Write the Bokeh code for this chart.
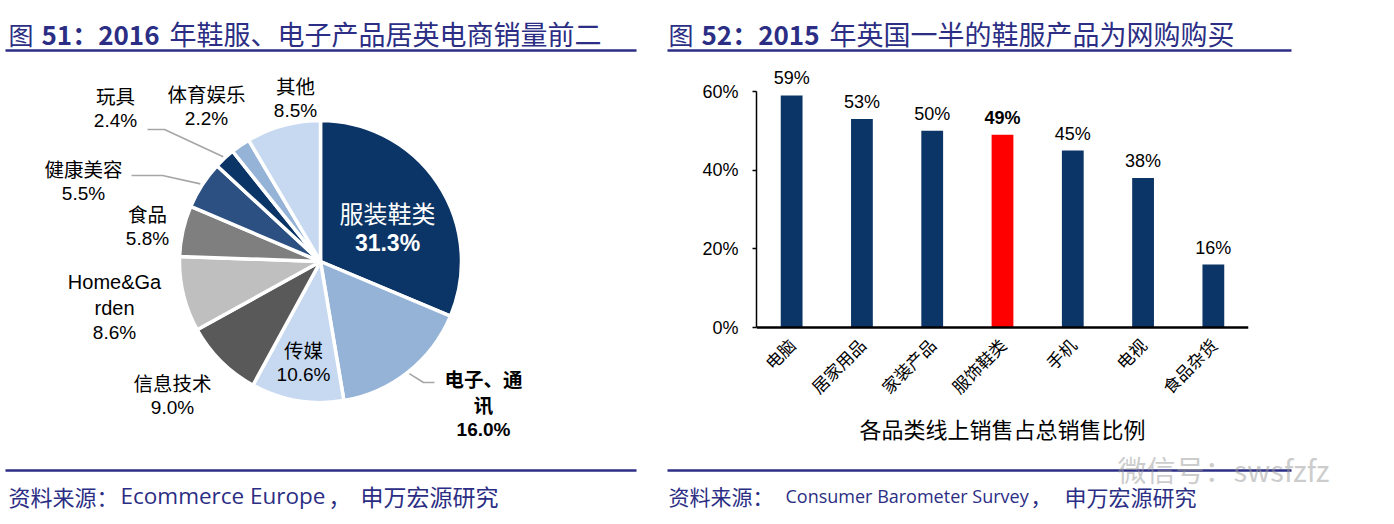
import math
from bokeh.plotting import figure
from bokeh.models import (Range1d, FactorRange, FixedTicker, NumeralTickFormatter,
                          Label, ColumnDataSource, CategoricalAxis)
from bokeh.layouts import column, row
from bokeh.embed import file_html
from bokeh.resources import INLINE
from bokeh.core.properties import value

# ---------------- data ----------------
pie_names = ["服装鞋类", "电子、通讯", "传媒", "信息技术", "Home&Garden",
             "食品", "健康美容", "玩具", "体育娱乐", "其他"]
pie_values = [31.3, 16.0, 10.6, 9.0, 8.6, 5.8, 5.5, 2.4, 2.2, 8.5]

bar_categories = ["电脑", "居家用品", "家装产品", "服饰鞋类", "手机", "电视", "食品杂货"]
bar_values = [0.59, 0.53, 0.50, 0.49, 0.45, 0.38, 0.16]
highlight_category = "服饰鞋类"
bar_ticks = [0, 0.2, 0.4, 0.6]

title_left = ["图", "51：2016", "年鞋服、电子产品居英电商销量前二"]
title_right = ["图", "52：2015", "年英国一半的鞋服产品为网购购买"]
source_left = ["资料来源：", "Ecommerce Europe", "，", "申万宏源研究"]
source_right = ["资料来源：", "Consumer Barometer Survey", "，", "申万宏源研究"]
bar_axis_title = "各品类线上销售占总销售比例"
watermark = "微信号：swsfzfz"

# ---------------- styles / layout (page pixels, origin top-left) ----------------
PAGE_W, PAGE_H = 1378, 516
def Y(py):
    return PAGE_H - py

CJK = "Noto Sans CJK SC"
SANS = "Liberation Sans"
LATIN = "Open Sans"
INK = "#2B2E84"
NAVY = "#0B3566"

pie_colors = ["#0B3566", "#95B3D7", "#C6D9F1", "#595959", "#BFBFBF",
              "#7F7F7F", "#2D5083", "#0B3566", "#95B3D7", "#C6D9F1"]
pie_wrap = {"电子、通讯": ["电子、通", "讯"], "Home&Garden": ["Home&Ga", "rden"]}
pie_label_pos = [(387, 212), (483, 378), (303, 349), (172, 382), (114, 281),
                 (147, 213), (83, 168), (115, 95), (206, 93), (295, 85)]
LINE_GAP = 26
leaders = {1: [(423, 382), (434, 382)], 6: [(162, 175), (131, 175)], 7: [(164, 129), (147, 129)]}
PIE_CX, PIE_CY, PIE_R = 320, 261, 141

MID_TOP, MID_BOT = 60, 446          # middle row in page px
SPLIT = 652                          # pie | bar boundary
BAR_LEFT, BAR_RIGHT = 756, 1248      # bar plot area
BAR_Y0, BAR_Y60 = 327, 91            # page y of 0% and 60%
SRC_Y = 495


def blank(w, h, x0, x1, py_top, py_bot):
    return figure(width=w, height=h, x_range=Range1d(x0, x1),
                  y_range=Range1d(Y(py_bot), Y(py_top)),
                  x_axis_type=None, y_axis_type=None, toolbar_location=None,
                  output_backend="svg", min_border=0, outline_line_color=None)


def add_text(p, x, py, text, size, color, font=CJK, style="normal",
             align="left", alpha=1.0):
    p.add_layout(Label(x=x, y=Y(py), text=text, text_font_size=f"{size}px",
                       text_color=color, text_font=font, text_font_style=style,
                       text_align=align, text_baseline="middle", text_alpha=alpha))


# ---------------- top strip (titles) ----------------
top = blank(PAGE_W, MID_TOP, 0, PAGE_W, 0, MID_TOP)
for base, pieces in ((8, title_left), (668, title_right)):
    add_text(top, base, 33, pieces[0], 25, INK)
    add_text(top, base + 33, 33, pieces[1], 26, INK, style="bold")
    add_text(top, base + 161, 33, pieces[2], 27, INK)
top.segment(x0=[5, 667], y0=[Y(50)] * 2, x1=[636, 1291], y1=[Y(50)] * 2,
            line_color=INK, line_width=2.5)

# ---------------- pie ----------------
pie = blank(SPLIT, MID_BOT - MID_TOP, 0, SPLIT, MID_TOP, MID_BOT)
total = sum(pie_values)
starts, ends, mids = [], [], []
acc = 0.0
for v in pie_values:
    a0 = math.pi / 2 - 2 * math.pi * acc / total
    acc += v
    a1 = math.pi / 2 - 2 * math.pi * acc / total
    starts.append(a1)
    ends.append(a0)
    mids.append((a0 + a1) / 2)
src = ColumnDataSource(dict(start=starts, end=ends, color=pie_colors,
                            name=pie_names, val=pie_values))
pie.wedge(x=PIE_CX, y=Y(PIE_CY), radius=PIE_R, start_angle="start", end_angle="end",
          fill_color="color", line_color="white", line_width=3.5, source=src)

for i, pts in leaders.items():
    sx = PIE_CX + (PIE_R + 2) * math.cos(mids[i])
    sy = PIE_CY - (PIE_R + 2) * math.sin(mids[i])
    xs = [sx] + [p[0] for p in pts]
    ys = [Y(sy)] + [Y(p[1]) for p in pts]
    pie.line(xs, ys, line_color="#A6A6A6", line_width=1.6)

for i, (name, v) in enumerate(zip(pie_names, pie_values)):
    lines = pie_wrap.get(name, [name])
    x, py = pie_label_pos[i]
    if i == 0:
        add_text(pie, x, py, name, 24, "white", align="center")
        add_text(pie, x, py + 30, f"{v:.1f}%", 23, "white", font=SANS, style="bold",
                 align="center")
        continue
    bold = "bold" if i == 1 else "normal"
    for k, ln in enumerate(lines):
        f = SANS if ln.isascii() else CJK
        add_text(pie, x, py + k * LINE_GAP, ln, 20 if f == SANS else 19.5, "black",
                 font=f, style=bold, align="center")
    add_text(pie, x, py + len(lines) * LINE_GAP - 1, f"{v:.1f}%", 19, "black",
             font=SANS, style=bold, align="center")

# ---------------- bar chart ----------------
px_per_unit = (BAR_Y0 - BAR_Y60) / bar_ticks[-1]
y_start = -(MID_BOT - BAR_Y0) / px_per_unit
y_end = bar_ticks[-1] + (BAR_Y60 - MID_TOP) / px_per_unit
bar = figure(width=PAGE_W - SPLIT, height=MID_BOT - MID_TOP,
             x_range=FactorRange(factors=bar_categories),
             y_range=Range1d(y_start, y_end), toolbar_location=None, output_backend="svg",
             min_border_left=BAR_LEFT - SPLIT, min_border_right=PAGE_W - BAR_RIGHT,
             min_border_top=0, min_border_bottom=0, outline_line_color=None,
             x_axis_location=None)
bar.xgrid.visible = False
bar.ygrid.visible = False
bsrc = ColumnDataSource(dict(
    cat=bar_categories, val=bar_values,
    label=[f"{round(v * 100)}%" for v in bar_values],
    color=["#FF0000" if c == highlight_category else NAVY for c in bar_categories],
    style=["bold" if c == highlight_category else "normal" for c in bar_categories]))
bar.vbar(x="cat", top="val", width=0.31, fill_color="color", line_color=None, source=bsrc)
bar.text(x="cat", y="val", text="label", text_align="center", text_baseline="bottom",
         y_offset=-7, text_font=value(SANS), text_font_size="18px",
         text_font_style="style", text_color="black", source=bsrc)

yax = bar.yaxis[0]
yax.ticker = FixedTicker(ticks=bar_ticks)
yax.formatter = NumeralTickFormatter(format="0%")
yax.bounds = (bar_ticks[0], bar_ticks[-1])
yax.major_label_text_font = SANS
yax.major_label_text_font_size = "18px"
yax.major_label_text_color = "black"
yax.major_tick_out = 4
yax.major_tick_in = 0
yax.minor_tick_out = 0
yax.minor_tick_in = 0
yax.axis_line_width = 1.5
yax.axis_line_color = "black"
yax.major_tick_line_color = "black"
yax.major_tick_line_width = 1.5
yax.major_label_standoff = 14

xax = CategoricalAxis(fixed_location=0)
xax.major_label_orientation = math.pi / 4
xax.major_tick_out = 0
xax.major_tick_in = 0
xax.axis_line_width = 2.5
xax.axis_line_color = "black"
xax.major_label_text_font = CJK
xax.major_label_text_font_size = "17px"
xax.major_label_text_color = "black"
xax.major_label_standoff = 14
xax.axis_label = bar_axis_title
xax.axis_label_text_font = CJK
xax.axis_label_text_font_size = "22px"
xax.axis_label_text_font_style = "normal"
xax.axis_label_text_color = "black"
xax.axis_label_standoff = 2
bar.add_layout(xax, "below")

# ---------------- bottom strip (sources) ----------------
bottom = blank(PAGE_W, PAGE_H - MID_BOT, 0, PAGE_W, MID_BOT, PAGE_H)
bottom.segment(x0=[5, 667], y0=[Y(470)] * 2, x1=[636, 1291], y1=[Y(470)] * 2,
               line_color=INK, line_width=2.5)
add_text(bottom, 1117, 468, watermark, 29, "#9A9A9A", alpha=0.5)
add_text(bottom, 8, SRC_Y, source_left[0], 22, INK)
add_text(bottom, 120, SRC_Y, source_left[1], 22.5, INK, font=LATIN)
add_text(bottom, 328, SRC_Y, source_left[2], 22, INK)
add_text(bottom, 360, SRC_Y, source_left[3], 23, INK)
add_text(bottom, 668, SRC_Y, source_right[0], 21, INK)
add_text(bottom, 785, SRC_Y, source_right[1], 18, INK, font=LATIN)
add_text(bottom, 1030, SRC_Y, source_right[2], 21, INK)
add_text(bottom, 1064, SRC_Y, source_right[3], 22, INK)

layout = column(top, row(pie, bar), bottom)
open("out.html", "w").write(file_html(layout, INLINE))
